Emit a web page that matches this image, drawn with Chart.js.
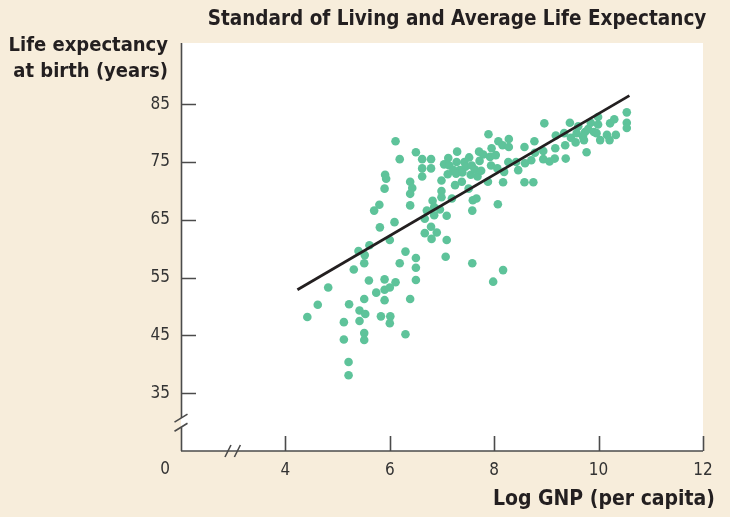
<!DOCTYPE html>
<html>
<head>
<meta charset="utf-8">
<script src="https://cdn.jsdelivr.net/npm/chart.js@4"></script>
<style>
  html, body { margin: 0; padding: 0; background: #f7eddb; }
  #wrap { width: 730px; height: 517px; position: relative; }
</style>
</head>
<body>
<div id="wrap"><canvas id="c" width="730" height="517"></canvas></div>
<script>
// ---- Data ----
const gnp = [
  4.42,4.62,4.82,5.12,5.12,5.21,5.21,5.22,5.31,5.40,5.42,5.42,5.51,5.51,5.51,5.51,5.52,5.53,5.61,5.60,
  5.70,5.74,5.80,5.81,5.83,5.90,5.90,5.90,5.91,5.93,5.90,6.00,6.00,6.01,6.00,6.09,6.11,6.11,6.19,6.19,
  6.30,6.30,6.39,6.43,6.39,6.39,6.39,6.50,6.50,6.50,6.50,6.62,6.79,6.62,6.79,6.62,6.82,6.71,6.85,6.96,
  6.85,6.67,6.67,6.79,6.90,6.80,7.09,7.09,7.07,6.99,6.99,6.99,7.19,7.25,7.38,7.51,7.59,7.66,7.58,7.58,
  7.04,7.12,7.29,7.14,7.28,7.43,7.52,7.45,7.34,7.22,7.11,7.27,7.39,7.55,7.68,7.71,7.79,7.72,7.57,7.63,
  7.75,7.89,7.95,8.08,8.16,8.28,8.28,7.92,8.03,7.94,8.06,8.27,8.42,8.46,8.19,7.88,8.17,8.07,8.17,7.98,
  8.58,8.77,8.59,8.71,8.78,8.58,8.75,8.96,8.94,8.94,9.06,9.16,9.17,9.18,9.34,9.36,9.37,9.45,9.47,9.58,
  9.61,9.56,9.74,9.80,9.85,9.72,9.77,9.99,9.99,10.03,9.91,10.16,10.21,10.33,10.22,10.30,10.54,10.54,10.54,9.70,
  9.96
];
const life = [
  48.2,50.3,53.3,47.3,44.3,40.4,38.1,50.4,56.4,59.6,49.3,47.5,57.5,51.3,45.4,44.2,58.9,48.7,60.6,54.5,
  66.6,52.4,67.6,63.7,48.3,54.7,52.9,51.1,72.8,72.1,70.4,61.5,53.3,48.3,47.1,64.6,78.6,54.2,75.5,57.5,
  59.5,45.2,71.6,70.5,69.5,67.5,51.3,76.7,58.4,56.7,54.6,75.5,75.5,73.9,73.9,72.5,68.3,66.6,67.2,66.8,
  65.8,65.2,62.7,63.8,62.8,61.7,65.7,61.5,58.6,71.8,70.0,68.9,68.7,71.0,71.6,70.4,68.4,68.7,66.6,57.5,
  74.6,75.7,76.8,74.4,75.0,75.0,75.8,74.2,73.6,73.6,72.9,73.0,73.2,72.8,72.5,76.8,76.3,75.2,74.4,73.7,
  73.5,79.8,77.4,78.6,77.9,79.0,77.6,75.9,76.2,74.4,73.9,75.0,75.0,73.6,73.3,71.6,71.5,67.7,56.3,54.3,
  77.6,78.6,74.8,75.3,76.6,71.5,71.5,81.7,76.9,75.5,75.1,75.6,77.4,79.6,80.0,77.9,75.6,81.8,79.2,80.0,
  81.2,78.4,80.2,80.7,81.8,78.8,76.7,82.8,81.5,78.8,80.2,79.7,78.8,79.7,81.7,82.4,83.6,81.8,80.9,79.4,
  80.0
];
// Regression line end points
const fitX = [4.23, 10.59];
const fitY = [52.9, 86.5];
// Tick labels
const xTicks = [4, 6, 8, 10, 12];
const yTicks = [35, 45, 55, 65, 75, 85];
const originLabel = '0';
const titleText = 'Standard of Living and Average Life Expectancy';
const yTitle = ['Life expectancy', 'at birth (years)'];
const xTitle = 'Log GNP (per capita)';

const FONT = '"DejaVu Sans Condensed", "DejaVu Sans", sans-serif';
const AXIS = '#4b4b4b';

const points = gnp.map((x, i) => ({ x: x, y: life[i] }));
const fitLine = fitX.map((x, i) => ({ x: x, y: fitY[i] }));

const decor = {
  id: 'decor',
  beforeDraw(chart) {
    const { ctx, chartArea: a } = chart;
    ctx.save();
    ctx.fillStyle = '#f7eddb';
    ctx.fillRect(0, 0, chart.width, chart.height);
    ctx.fillStyle = '#ffffff';
    ctx.fillRect(a.left, a.top, a.right - a.left, a.bottom - a.top);
    ctx.restore();
  },
  afterDraw(chart) {
    const { ctx, chartArea: a, scales } = chart;
    const xs = scales.x, ys = scales.y;
    ctx.save();
    ctx.strokeStyle = AXIS;
    ctx.lineWidth = 1.6;
    ctx.lineCap = 'butt';
    const L = a.left + 0.5, B = a.bottom;
    // y axis with a break
    const brkTop = ys.getPixelForValue(30.7);
    const brkBot = ys.getPixelForValue(29.1);
    ctx.beginPath();
    ctx.moveTo(L, a.top); ctx.lineTo(L, brkTop);
    ctx.moveTo(L, brkBot); ctx.lineTo(L, B);
    ctx.stroke();
    // y break marks
    ctx.beginPath();
    ctx.moveTo(L - 7, brkTop + 4); ctx.lineTo(L + 6, brkTop - 4);
    ctx.moveTo(L - 7, brkBot + 4); ctx.lineTo(L + 6, brkBot - 4);
    ctx.stroke();
    // x axis
    ctx.beginPath();
    ctx.moveTo(a.left, B); ctx.lineTo(a.right, B);
    ctx.stroke();
    // x break marks
    const bx1 = xs.getPixelForValue(2.9), bx2 = xs.getPixelForValue(3.08);
    ctx.beginPath();
    ctx.moveTo(bx1 - 3, B + 6); ctx.lineTo(bx1 + 3, B - 6);
    ctx.moveTo(bx2 - 3, B + 6); ctx.lineTo(bx2 + 3, B - 6);
    ctx.stroke();
    // inward tick marks
    ctx.beginPath();
    yTicks.forEach(v => {
      const p = Math.round(ys.getPixelForValue(v)) + 0.5;
      ctx.moveTo(a.left, p); ctx.lineTo(a.left + 15, p);
    });
    xTicks.forEach(v => {
      const p = Math.round(xs.getPixelForValue(v)) + 0.5;
      ctx.moveTo(p, B); ctx.lineTo(p, B - 15);
    });
    ctx.stroke();
    // texts
    ctx.font = '17px ' + FONT;
    ctx.textAlign = 'center';
    ctx.textBaseline = 'middle';
    ctx.fillStyle = '#333333';
    ctx.fillText(originLabel, a.left - 16, 470);
    ctx.fillStyle = '#231f20';
    ctx.font = 'bold 20.5px ' + FONT;
    ctx.fillText(titleText, 457, 20);
    ctx.textAlign = 'right';
    ctx.font = 'bold 20px ' + FONT;
    ctx.fillText(yTitle[0], 168, 46);
    ctx.fillText(yTitle[1], 168, 72);
    ctx.font = 'bold 21px ' + FONT;
    ctx.fillText(xTitle, 715, 500);
    ctx.restore();
  }
};

new Chart(document.getElementById('c'), {
  type: 'scatter',
  data: {
    datasets: [
      {
        type: 'line',
        data: fitLine,
        borderColor: '#231f20',
        borderWidth: 2.8,
        pointRadius: 0,
        fill: false
      },
      {
        data: points,
        backgroundColor: '#5ec39a',
        borderWidth: 0,
        pointRadius: 4.3,
        pointHoverRadius: 4.3
      }
    ]
  },
  options: {
    responsive: false,
    animation: false,
    events: [],
    layout: { padding: { left: 0, right: 27, top: 43, bottom: 0 } },
    plugins: { legend: { display: false }, tooltip: { enabled: false }, title: { display: false } },
    scales: {
      x: {
        type: 'linear',
        min: 2, max: 12,
        border: { display: false },
        grid: { display: false, drawTicks: false },
        afterFit(s) { s.height = 66; },
        afterBuildTicks(s) { s.ticks = xTicks.map(v => ({ value: v })); },
        ticks: { padding: 9, color: '#333333', font: { family: FONT, size: 17 } }
      },
      y: {
        type: 'linear',
        min: 25, max: 95.6,
        border: { display: false },
        grid: { display: false, drawTicks: false },
        afterFit(s) { s.width = 181; },
        afterBuildTicks(s) { s.ticks = yTicks.map(v => ({ value: v })); },
        ticks: { padding: 11, color: '#333333', font: { family: FONT, size: 17 } }
      }
    }
  },
  plugins: [decor]
});
</script>
</body>
</html>
